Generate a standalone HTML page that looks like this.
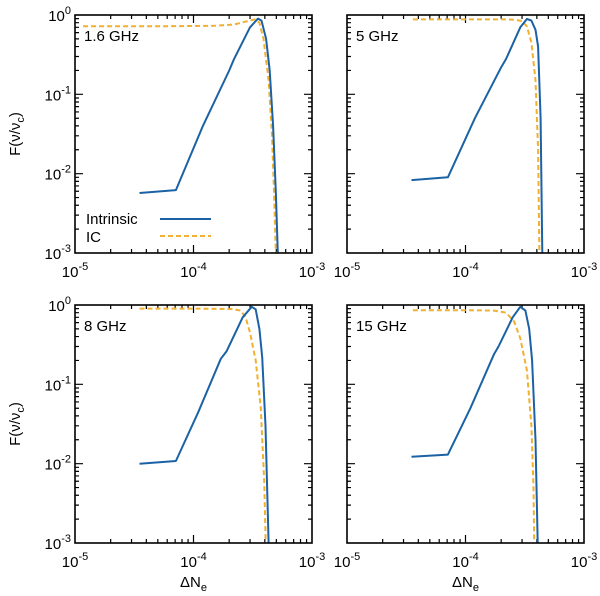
<!DOCTYPE html>
<html><head><meta charset="utf-8"><style>
body{margin:0;background:#fff;}
svg{display:block;font-family:"Liberation Sans",sans-serif;}
</style></head><body>
<svg id="fig" width="600" height="596" viewBox="0 0 600 596"></svg>
<script>
const panelNames = ["1.6 GHz","5 GHz","8 GHz","15 GHz"];
const intrX_16 = [3.5e-5,7.1e-5,1.2e-4,2.0e-4,2.2e-4,3.0e-4,3.5e-4,3.75e-4,4.1e-4,4.4e-4,4.7e-4,4.95e-4,5.15e-4];
const intrY_16 = [0.0057,0.0062,0.04,0.2,0.28,0.7,0.9,0.85,0.5,0.2,0.04,0.006,0.001];
const icX_16 = [1.17e-5,5e-5,1.5e-4,2.2e-4,2.8e-4,3.3e-4,3.6e-4,3.9e-4,4.3e-4,4.6e-4,4.8e-4,4.95e-4];
const icY_16 = [0.72,0.72,0.73,0.76,0.83,0.88,0.8,0.5,0.15,0.03,0.005,0.001];
const intrX_5 = [3.5e-5,7.1e-5,1.2e-4,2.0e-4,2.2e-4,2.9e-4,3.3e-4,3.6e-4,3.9e-4,4.1e-4,4.3e-4,4.45e-4];
const intrY_5 = [0.0083,0.009,0.05,0.22,0.28,0.7,0.89,0.85,0.65,0.4,0.05,0.001];
const icX_5 = [3.6e-5,1e-4,2.2e-4,2.6e-4,3.0e-4,3.3e-4,3.6e-4,3.9e-4,4.1e-4,4.2e-4];
const icY_5 = [0.88,0.88,0.88,0.87,0.84,0.72,0.45,0.15,0.02,0.001];
const intrX_8 = [3.5e-5,7.1e-5,1.1e-4,1.7e-4,1.9e-4,2.6e-4,3.1e-4,3.35e-4,3.6e-4,3.8e-4,4.05e-4,4.3e-4];
const intrY_8 = [0.01,0.0108,0.045,0.21,0.26,0.7,0.95,0.88,0.5,0.22,0.03,0.001];
const icX_8 = [3.5e-5,1e-4,2.1e-4,2.5e-4,2.75e-4,3.0e-4,3.35e-4,3.7e-4,3.95e-4,4.07e-4];
const icY_8 = [0.9,0.9,0.89,0.85,0.7,0.45,0.2,0.05,0.006,0.001];
const intrX_15 = [3.5e-5,7.1e-5,1.1e-4,1.74e-4,1.9e-4,2.5e-4,2.9e-4,3.2e-4,3.45e-4,3.65e-4,3.9e-4,4.07e-4];
const intrY_15 = [0.0122,0.013,0.05,0.24,0.3,0.7,0.95,0.85,0.5,0.2,0.02,0.001];
const icX_15 = [3.6e-5,1e-4,1.74e-4,2.2e-4,2.57e-4,2.9e-4,3.3e-4,3.6e-4,3.75e-4,3.8e-4];
const icY_15 = [0.86,0.86,0.85,0.8,0.62,0.38,0.15,0.03,0.005,0.001];
const xTickExps = [-5,-4,-3];
const yTickExps = [-3,-2,-1,0];

const intrXs=[intrX_16,intrX_5,intrX_8,intrX_15], intrYs=[intrY_16,intrY_5,intrY_8,intrY_15];
const icXs=[icX_16,icX_5,icX_8,icX_15], icYs=[icY_16,icY_5,icY_8,icY_15];
const boxes=[[75,15],[347,15],[75,305],[347,305]];
const W=237,H=238;
const NS="http://www.w3.org/2000/svg";
const svg=document.getElementById('fig');
function mk(tag,attrs,parent){const e=document.createElementNS(NS,tag);for(const k in attrs)e.setAttribute(k,attrs[k]);(parent||svg).appendChild(e);return e;}
function pow10Label(parent,x,y,exp,anchor){
  const t=mk('text',{x:x,y:y,'font-size':15,'text-anchor':anchor,fill:'#000'},parent);
  t.appendChild(document.createTextNode('10'));
  const s=mk('tspan',{dy:-7,'font-size':11},t);s.textContent=String(exp);
  return t;
}
boxes.forEach((b,i)=>{
  const [x0,y0]=b;
  const g=mk('g',{});
  
  
  const sx=v=>x0+(Math.log10(v)+5)/2*W;
  const sy=v=>y0+(-Math.log10(v))/3*H;
  let d='';
  for(let e=-5;e<-3;e++)for(let m=1;m<10;m++){const px=sx(m*Math.pow(10,e));if(px<=x0+0.1)continue;const L=m==1?8:4;d+=`M${px},${y0+H}v${-L}M${px},${y0}v${L}`;}
  for(let e=-3;e<0;e++)for(let m=1;m<10;m++){const py=sy(m*Math.pow(10,e));if(m==1&&e==-3)continue;const L=m==1?8:4;d+=`M${x0},${py}h${L}M${x0+W},${py}h${-L}`;}
  const tk=mk('path',{d:d,stroke:'#000','stroke-width':1.2,fill:'none'},g);
  
  
  const path=(xs,ys)=>xs.map((x,k)=>(k?'L':'M')+sx(x).toFixed(1)+','+sy(ys[k]).toFixed(1)).join('');
  const ic=mk('path',{d:path(icXs[i],icYs[i]),stroke:'#f0b030','stroke-width':2,fill:'none','stroke-dasharray':'5,3','stroke-linejoin':'round'},g);
  
  
  const intr=mk('path',{d:path(intrXs[i],intrYs[i]),stroke:'#1b62a5','stroke-width':2,fill:'none','stroke-linejoin':'round'},g);
  
  
  const fr=mk('rect',{x:x0,y:y0,width:W,height:H,fill:'none',stroke:'#000','stroke-width':1.6},g);
  
  
  const lab=mk('text',{x:x0+9,y:y0+26,'font-size':15,fill:'#000'},g);lab.textContent=panelNames[i];
  
  
  xTickExps.forEach(e=>{const t=pow10Label(g,sx(Math.pow(10,e)),y0+H+24,e,'middle');
    
    });
  if(i%2==0){
    yTickExps.forEach(e=>{const t=pow10Label(g,x0-4,sy(Math.pow(10,e))+6,e,'end');
      
      });
    const yl=mk('text',{x:0,y:0,'font-size':15,'text-anchor':'middle',transform:`translate(20,${y0+H/2}) rotate(-90)`},g);
    yl.innerHTML='F(ν/ν<tspan font-size="11" dy="4">c</tspan><tspan dy="-4">)</tspan>';
    
    
  }
  if(i>=2){
    const xl=mk('text',{x:x0+W/2,y:y0+H+44,'font-size':15,'text-anchor':'middle'},g);
    xl.innerHTML='ΔN<tspan font-size="11" dy="4">e</tspan>';
    
    
  }
  if(i==0){
    const lg=mk('g',{},g);
    
    
    const t1=mk('text',{x:86,y:224,'font-size':15},lg);t1.textContent='Intrinsic';
    
    
    mk('line',{x1:160,y1:219,x2:211,y2:219,stroke:'#1b62a5','stroke-width':2},lg);
    const t2=mk('text',{x:86,y:242,'font-size':15},lg);t2.textContent='IC';
    
    
    mk('line',{x1:160,y1:236,x2:211,y2:236,stroke:'#f0b030','stroke-width':2,'stroke-dasharray':'5,3'},lg);
  }
});
</script>
</body></html>
